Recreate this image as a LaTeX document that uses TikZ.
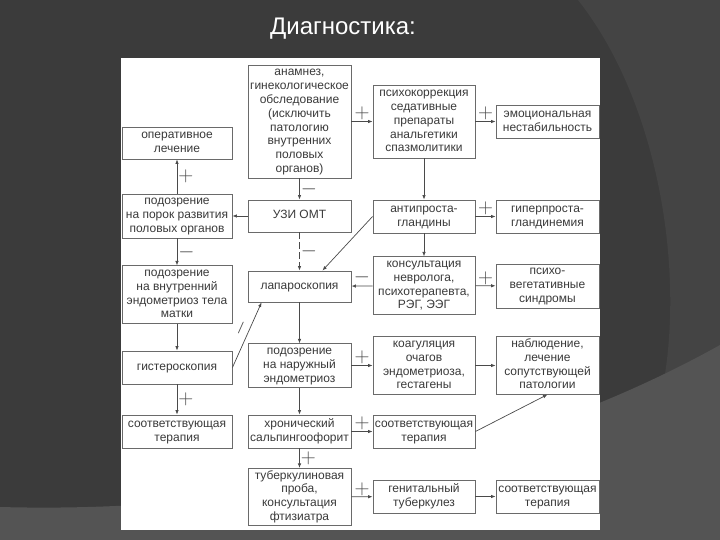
\documentclass[tikz,border=0pt]{standalone}
\usepackage{fontspec}
\setmainfont{Liberation Sans}
\usetikzlibrary{arrows.meta}
\definecolor{slidebg}{HTML}{3B3B3B}
\definecolor{slidearc}{HTML}{444444}
\definecolor{slideband}{HTML}{545454}
\definecolor{boxline}{HTML}{6A6A6A}
\definecolor{arrline}{HTML}{4A4A4A}
\definecolor{txt}{HTML}{3A3A3A}
\newcommand{\boxlines}[1]{\begin{tabular}{@{}c@{}}#1\end{tabular}}

\begin{document}
\begin{tikzpicture}[x=1pt,y=-1pt,
  box/.style={draw=boxline, line width=0.9pt, fill=white, text=txt,
    inner sep=1pt, font=\fontsize{12}{13.8}\selectfont},
  arr/.style={draw=arrline, line width=0.7pt, -{Latex[length=4.5pt,width=3.5pt]}},
  sign/.style={text=arrline, font=\fontsize{20}{20}\selectfont, inner sep=1pt}]
\useasboundingbox (0,0) rectangle (720,540);
% slide background
\fill[slidebg] (0,0) rectangle (720,540);
\fill[slidearc] (578,0) .. controls (665,110) and (690,300) .. (655,420)
  .. controls (640,470) and (615,510) .. (593,540) -- (720,540) -- (720,0) -- cycle;
\fill[slideband] (0,507) .. controls (300,515) and (550,440) .. (720,345)
  -- (720,540) -- (0,540) -- cycle;
\node[text=white, font=\fontsize{24}{24}\selectfont] (title) at (343,29) {Диагностика:};
% white panel
\fill[white] (121,58) rectangle (600,530);

% left column
\node[box, minimum width=110pt, minimum height=32pt] (oper) at (177,143) {\boxlines{оперативное\\лечение}};
\node[box, minimum width=110pt, minimum height=44pt] (porok) at (177,216) {\boxlines{подозрение\\на порок развития\\половых органов}};
\node[box, minimum width=110pt, minimum height=57pt] (vnutr) at (177,294.5) {\boxlines{подозрение\\на внутренний\\эндометриоз тела\\матки}};
\node[box, minimum width=110pt, minimum height=33pt] (gistero) at (177,367.5) {\boxlines{гистероскопия}};
\node[box, minimum width=110pt, minimum height=33pt] (terapL) at (177,431.5) {\boxlines{соответствующая\\терапия}};
% second column
\node[box, minimum width=103pt, minimum height=113pt] (anamnez) at (299.5,121.5) {\boxlines{анамнез,\\гинекологическое\\обследование\\(исключить\\патологию\\внутренних\\половых\\органов)}};
\node[box, minimum width=103pt, minimum height=32pt] (uzi) at (299.5,216) {\boxlines{УЗИ ОМТ}};
\node[box, minimum width=103pt, minimum height=31pt] (laparo) at (299.5,286.5) {\boxlines{лапароскопия}};
\node[box, minimum width=103pt, minimum height=43pt] (naruzh) at (299.5,365.5) {\boxlines{подозрение\\на наружный\\эндометриоз}};
\node[box, minimum width=103pt, minimum height=33pt] (hron) at (299.5,431.5) {\boxlines{хронический\\сальпингоофорит}};
\node[box, minimum width=103pt, minimum height=56pt] (tuberk) at (299.5,497) {\boxlines{туберкулиновая\\проба,\\консультация\\фтизиатра}};
% third column
\node[box, minimum width=102pt, minimum height=73pt] (psiho) at (424,121.5) {\boxlines{психокоррекция\\седативные\\препараты\\анальгетики\\спазмолитики}};
\node[box, minimum width=102pt, minimum height=33pt] (antipr) at (424,216.5) {\boxlines{антипроста-\\гландины}};
\node[box, minimum width=102pt, minimum height=55pt] (konsult) at (424,285.5) {\boxlines{консультация\\невролога,\\психотерапевта,\\РЭГ, ЭЭГ}};
\node[box, minimum width=102pt, minimum height=57pt] (koag) at (424,365.5) {\boxlines{коагуляция\\очагов\\эндометриоза,\\гестагены}};
\node[box, minimum width=102pt, minimum height=33pt] (terapM) at (424,431.5) {\boxlines{соответствующая\\терапия}};
\node[box, minimum width=102pt, minimum height=33pt] (genit) at (424,496.5) {\boxlines{генитальный\\туберкулез}};
% right column
\node[box, minimum width=103pt, minimum height=33pt] (emoc) at (547.5,121.5) {\boxlines{эмоциональная\\нестабильность}};
\node[box, minimum width=103pt, minimum height=33pt] (giperpr) at (547.5,216.5) {\boxlines{гиперпроста-\\гландинемия}};
\node[box, minimum width=103pt, minimum height=44pt] (psihoveg) at (547.5,286) {\boxlines{психо-\\вегетативные\\синдромы}};
\node[box, minimum width=103pt, minimum height=57pt] (nabl) at (547.5,365.5) {\boxlines{наблюдение,\\лечение\\сопутствующей\\патологии}};
\node[box, minimum width=103pt, minimum height=33pt] (terapR) at (547.5,496.5) {\boxlines{соответствующая\\терапия}};

% arrows with + above
\foreach \a/\b in {anamnez/psiho, psiho/emoc, antipr/giperpr, konsult/psihoveg,
    naruzh/koag, hron/terapM, tuberk/genit}
  \draw[arr] (\a) -- node[sign, above] {$+$} (\b);
% arrows with + at the right
\foreach \a/\b in {porok/oper, gistero/terapL, hron/tuberk}
  \draw[arr] (\a) -- node[sign, right] {$+$} (\b);
% arrows with - at the right
\foreach \a/\b in {anamnez/uzi, porok/vnutr}
  \draw[arr] (\a) -- node[sign, right] {$-$} (\b);
\draw[arr, dash pattern=on 7pt off 3pt] (uzi) -- node[sign, right] {$-$} (laparo);
\draw[arr] (konsult) -- node[sign, above] {$-$} (laparo);
% plain arrows
\foreach \a/\b in {koag/nabl, genit/terapR, uzi/porok, psiho/antipr, antipr/konsult,
    vnutr/gistero, laparo/naruzh, naruzh/hron}
  \draw[arr] (\a) -- (\b);
% slanted arrows
\draw[arr] (antipr.west) -- ([xshift=-29pt]laparo.north east);
\draw[arr] (gistero.east) -- node[sign, sloped, above, pos=0.55] {$-$} ([xshift=14pt]laparo.south west);
\draw[arr] (terapM.east) -- (nabl.south);
\end{tikzpicture}
\end{document}
